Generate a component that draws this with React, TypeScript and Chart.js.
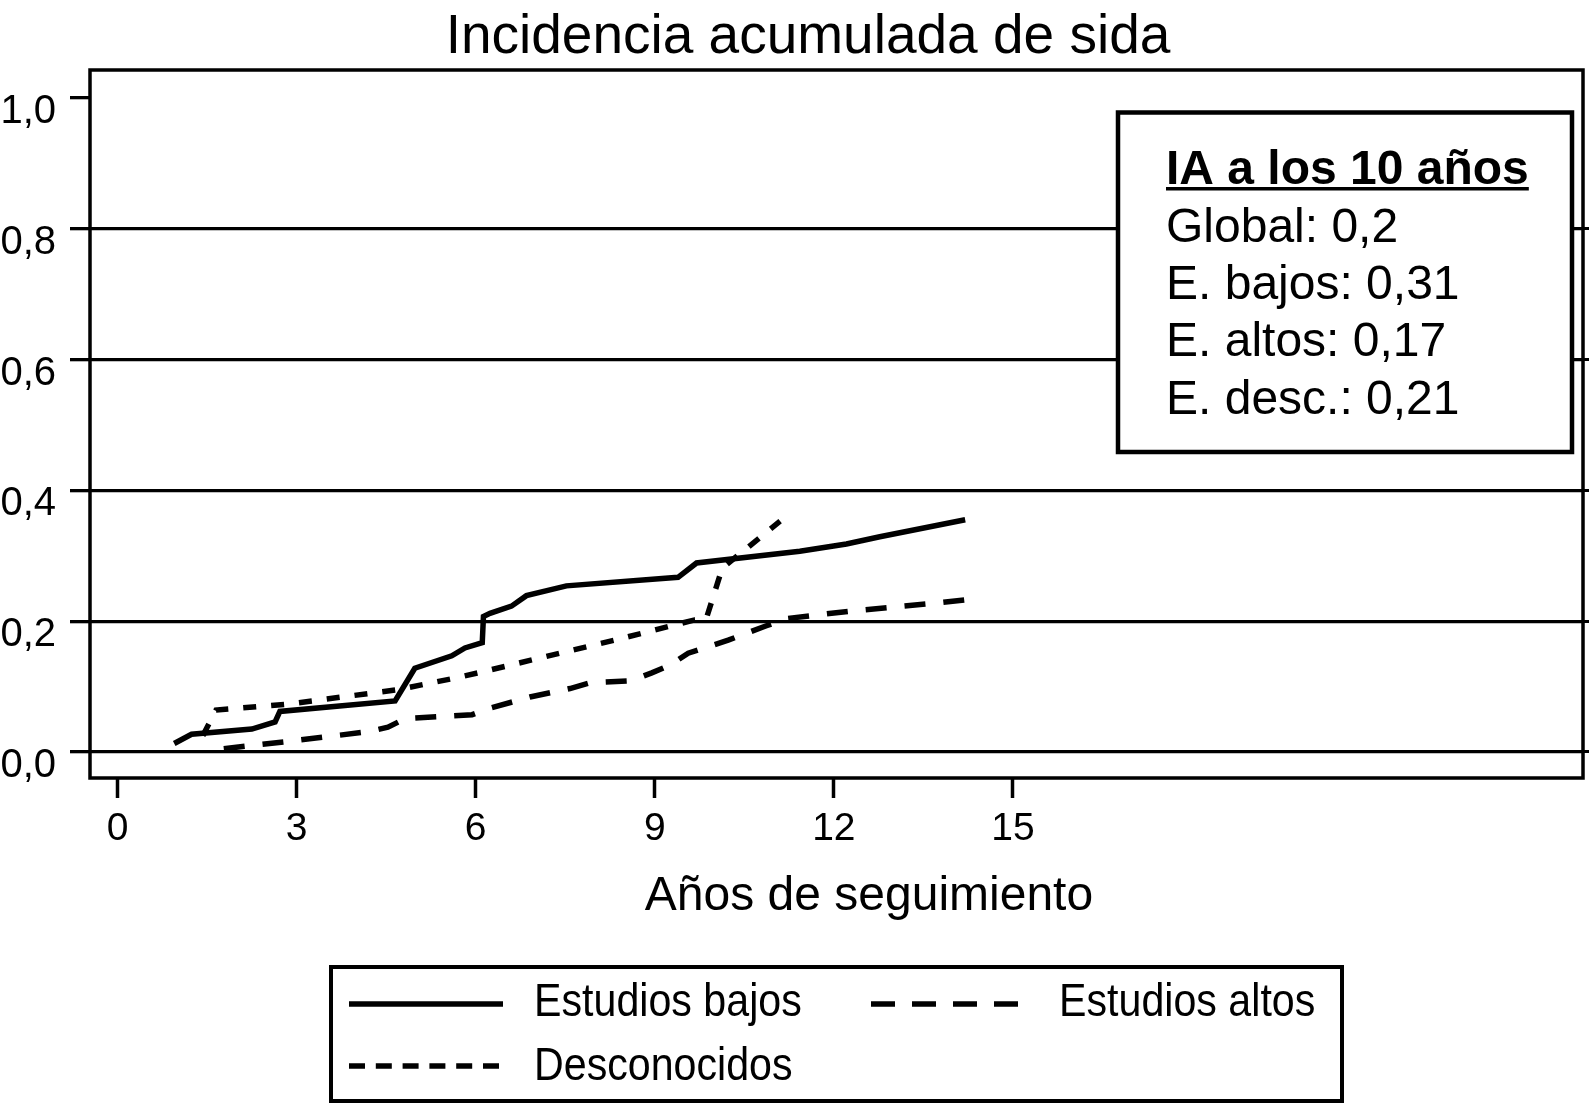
import React, { useEffect, useRef } from 'react';
import { Chart, registerables } from 'chart.js';

Chart.register(...registerables);

const FONT = "'Liberation Sans', Arial, Helvetica, sans-serif";

// ---- texts ----
const titleText = 'Incidencia acumulada de sida';
const xAxisTitle = 'Años de seguimiento';
const boxTitle = 'IA a los 10 años';
const boxLines = ['Global: 0,2', 'E. bajos: 0,31', 'E. altos: 0,17', 'E. desc.: 0,21'];
const seriesLabels = ['Estudios bajos', 'Estudios altos', 'Desconocidos'];

// ---- ticks ----
const xTicks = [0, 3, 6, 9, 12, 15];
const yTicks = [0, 0.2, 0.4, 0.6, 0.8, 1.0];

// ---- series (years, cumulative incidence) ----
const bajosX = [0.95, 1.24, 2.25, 2.64, 2.72, 4.65, 4.98, 5.6, 5.82, 6.11, 6.13, 6.24, 6.6, 6.85, 7.52, 9.39, 9.7, 11.43, 12.21, 12.77, 14.2];
const bajosY = [0.013, 0.027, 0.035, 0.046, 0.062, 0.078, 0.128, 0.147, 0.159, 0.167, 0.207, 0.212, 0.223, 0.239, 0.254, 0.267, 0.289, 0.307, 0.318, 0.329, 0.355];

const altosX = [1.78, 2.84, 4.2, 4.53, 4.82, 5.57, 5.94, 6.24, 6.91, 7.58, 7.92, 8.61, 8.95, 9.26, 9.56, 10.23, 10.87, 11.21, 12.24, 13.64, 14.33];
const altosY = [0.005, 0.016, 0.031, 0.038, 0.051, 0.055, 0.057, 0.067, 0.084, 0.097, 0.106, 0.109, 0.121, 0.133, 0.151, 0.171, 0.193, 0.204, 0.215, 0.227, 0.234];

const descX = [1.43, 1.65, 2.84, 4.68, 5.6, 6.04, 7.41, 8.33, 9.67, 9.86, 10.13, 11.1];
const descY = [0.025, 0.064, 0.073, 0.095, 0.112, 0.121, 0.151, 0.171, 0.202, 0.203, 0.281, 0.353];

const toPoints = (xs: number[], ys: number[]) => xs.map((x, i) => ({ x, y: ys[i] }));

const decorPlugin = {
  id: 'decor',
  afterDraw(chart: any) {
    const ctx = chart.ctx as CanvasRenderingContext2D;
    const a = chart.chartArea;
    ctx.save();
    ctx.strokeStyle = '#000';
    ctx.fillStyle = '#000';
    ctx.setLineDash([]);

    // plot frame
    ctx.lineWidth = 3.5;
    ctx.strokeRect(a.left, a.top, a.right - a.left, a.bottom - a.top);

    // title and x axis title
    ctx.textBaseline = 'alphabetic';
    ctx.textAlign = 'center';
    ctx.font = `55px ${FONT}`;
    ctx.fillText(titleText, 808, 53);
    ctx.font = `48px ${FONT}`;
    ctx.fillText(xAxisTitle, 869, 910);

    // annotation box
    const bx = 1118, by = 112.5, bw = 454, bh = 339.5;
    ctx.fillStyle = '#fff';
    ctx.fillRect(bx, by, bw, bh);
    ctx.lineWidth = 4.5;
    ctx.strokeRect(bx, by, bw, bh);
    ctx.fillStyle = '#000';
    ctx.textAlign = 'left';
    ctx.font = `bold 48px ${FONT}`;
    ctx.fillText(boxTitle, 1166, 184);
    const tw = ctx.measureText(boxTitle).width;
    ctx.fillRect(1166, 187, tw, 3.5);
    ctx.font = `48px ${FONT}`;
    boxLines.forEach((s, i) => ctx.fillText(s, 1166, 242 + 57.2 * i));

    // legend
    ctx.lineWidth = 4;
    ctx.strokeRect(331, 967, 1011, 134);
    const ds = chart.data.datasets;
    const items = [
      { i: 0, sx: 349, sw: 154, sy: 1004, tx: 534, ty: 1016 },
      { i: 1, sx: 871, sw: 147, sy: 1004, tx: 1059, ty: 1016 },
      { i: 2, sx: 349, sw: 150, sy: 1066, tx: 534, ty: 1080 },
    ];
    const legendDash = [[], [24, 17], [16, 10.8]];
    items.forEach((it) => {
      ctx.save();
      ctx.lineWidth = 5.5;
      ctx.lineCap = 'butt';
      ctx.setLineDash(legendDash[it.i]);
      ctx.beginPath();
      ctx.moveTo(it.sx, it.sy);
      ctx.lineTo(it.sx + it.sw, it.sy);
      ctx.stroke();
      ctx.restore();
      ctx.save();
      ctx.translate(it.tx, it.ty);
      ctx.scale(0.895, 1);
      ctx.font = `46px ${FONT}`;
      ctx.fillStyle = '#000';
      ctx.textAlign = 'left';
      ctx.fillText(ds[it.i].label, 0, 0);
      ctx.restore();
    });

    ctx.restore();
  },
};

const zeroPad = (scale: any) => {
  scale.paddingTop = 0;
  scale.paddingBottom = 0;
  scale.paddingLeft = 0;
  scale.paddingRight = 0;
};

export default function App() {
  const ref = useRef<HTMLCanvasElement | null>(null);

  useEffect(() => {
    document.body.style.margin = '0';
    if (!ref.current) return;
    const hideTop = (c: any) => (c.tick && c.tick.value > 0.99 ? 'rgba(0,0,0,0)' : '#000');
    const chart = new Chart(ref.current, {
      type: 'line',
      data: {
        datasets: [
          {
            label: seriesLabels[0],
            data: toPoints(bajosX, bajosY),
            borderColor: '#000',
            borderWidth: 5.5,
            pointRadius: 0,
            tension: 0,
            fill: false,
          },
          {
            label: seriesLabels[1],
            data: toPoints(altosX, altosY),
            borderColor: '#000',
            borderWidth: 5.5,
            borderDash: [21, 18],
            pointRadius: 0,
            tension: 0,
            fill: false,
          },
          {
            label: seriesLabels[2],
            data: toPoints(descX, descY),
            borderColor: '#000',
            borderWidth: 5.5,
            borderDash: [13, 15],
            pointRadius: 0,
            tension: 0,
            fill: false,
          },
        ],
      },
      options: {
        animation: false,
        responsive: false,
        devicePixelRatio: 1,
        events: [],
        layout: { padding: { top: 70, left: 0, right: 7, bottom: 236 } },
        plugins: {
          legend: { display: false },
          title: { display: false },
          tooltip: { enabled: false },
        },
        scales: {
          x: {
            type: 'linear',
            min: -0.461,
            max: 24.55,
            afterBuildTicks: (s: any) => {
              s.ticks = xTicks.map((v) => ({ value: v }));
            },
            afterFit: (s: any) => {
              s.height = 90;
              zeroPad(s);
            },
            border: { display: false },
            grid: {
              drawOnChartArea: false,
              drawTicks: true,
              tickLength: 20,
              tickWidth: 3.5,
              tickColor: '#000',
              color: '#000',
            },
            ticks: {
              color: '#000',
              font: { family: FONT, size: 39 },
              padding: 8,
              maxRotation: 0,
              autoSkip: false,
              callback: (v: any) => String(v),
            },
          },
          y: {
            type: 'linear',
            position: 'left',
            min: -0.0398,
            max: 1.0428,
            afterBuildTicks: (s: any) => {
              s.ticks = yTicks.map((v) => ({ value: v }));
            },
            afterFit: (s: any) => {
              s.width = 90;
              zeroPad(s);
            },
            border: { display: false },
            grid: {
              drawOnChartArea: true,
              drawTicks: true,
              tickLength: 20,
              lineWidth: 3.3,
              tickWidth: 3.3,
              color: hideTop,
              tickColor: '#000',
            },
            ticks: {
              color: '#000',
              font: { family: FONT, size: 40 },
              padding: 14,
              labelOffset: 14,
              autoSkip: false,
              callback: (v: any) => Number(v).toFixed(1).replace('.', ','),
            },
          },
          y2: {
            type: 'linear',
            position: 'right',
            min: -0.0398,
            max: 1.0428,
            afterBuildTicks: (s: any) => {
              s.ticks = yTicks.map((v) => ({ value: v }));
            },
            afterFit: (s: any) => {
              s.width = 0;
              zeroPad(s);
            },
            border: { display: false },
            grid: {
              drawOnChartArea: false,
              drawTicks: true,
              tickLength: 6,
              tickWidth: 3,
              color: hideTop,
              tickColor: hideTop,
            },
            ticks: { display: false },
          },
        },
      },
      plugins: [decorPlugin],
    } as any);
    return () => chart.destroy();
  }, []);

  return (
    <div style={{ width: 1590, height: 1104, background: '#fff' }}>
      <canvas ref={ref} width={1590} height={1104} style={{ display: 'block' }} />
    </div>
  );
}
